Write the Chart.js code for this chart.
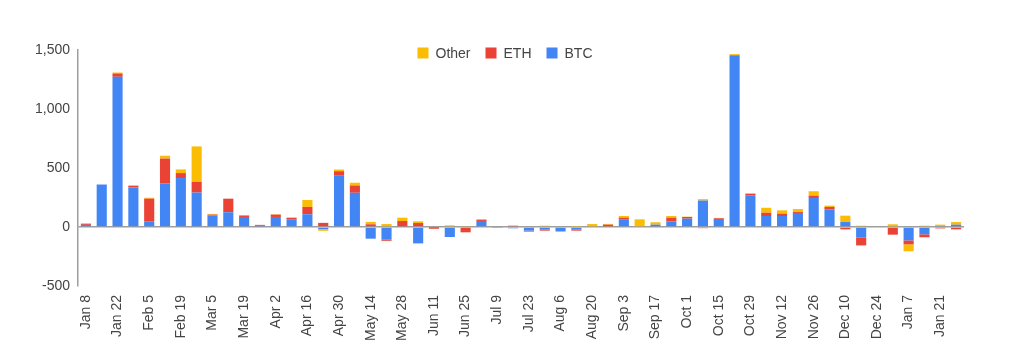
<!DOCTYPE html>
<html>
<head>
<meta charset="utf-8">
<script src="https://cdn.jsdelivr.net/npm/chart.js@4.4.1/dist/chart.umd.min.js"></script>
<style>
  html, body { margin: 0; padding: 0; background: #fff; }
  #wrap { width: 1024px; height: 364px; }
</style>
</head>
<body>
<div id="wrap"><canvas id="flows"></canvas></div>
<script>
// weekly net flows
const weeks = [
  'Jan 8', 'Jan 15', 'Jan 22', 'Jan 29', 'Feb 5', 'Feb 12', 'Feb 19', 'Feb 26',
  'Mar 5', 'Mar 12', 'Mar 19', 'Mar 26', 'Apr 2', 'Apr 9', 'Apr 16', 'Apr 23',
  'Apr 30', 'May 7', 'May 14', 'May 21', 'May 28', 'Jun 4', 'Jun 11', 'Jun 18',
  'Jun 25', 'Jul 2', 'Jul 9', 'Jul 16', 'Jul 23', 'Jul 30', 'Aug 6', 'Aug 13',
  'Aug 20', 'Aug 27', 'Sep 3', 'Sep 10', 'Sep 17', 'Sep 24', 'Oct 1', 'Oct 8',
  'Oct 15', 'Oct 22', 'Oct 29', 'Nov 5', 'Nov 12', 'Nov 19', 'Nov 26', 'Dec 3',
  'Dec 10', 'Dec 17', 'Dec 24', 'Dec 31', 'Jan 7', 'Jan 14', 'Jan 21', 'Jan 28'
];

const btc = [
  18, 360, 1273, 334, 45, 370, 415, 292, 97, 125, 85, 10, 85, 62, 108, -18,
  439, 290, -99, -105, 0, -139, -3, -85, 0, 51, 0, -11, -31, -23, -34, -23,
  0, 0, 62, 0, 20, 48, 71, 224, 68, 1455, 269, 93, 93, 119, 246, 147,
  42, -91, 0, 0, -113, -62, 8, 20
];
const eth = [
  10, 0, 28, 14, 195, 210, 42, 91, 8, 115, 11, 8, 20, 17, 62, 35,
  34, 62, 23, -12, 51, 34, -12, 0, -45, 8, -4, 11, -8, -8, -4, -8,
  0, 20, 17, 0, 0, 31, 14, -10, 6, 0, 14, 28, 20, 8, 20, 23,
  -20, -65, 0, -65, -34, -25, -12, -20
];
const other = [
  2, 0, 8, 6, 8, 24, 31, 300, 6, 0, 6, 0, 3, 0, 59, -14,
  14, 23, 20, 25, 28, 14, 6, 14, 5, 8, 0, 0, 6, 11, 0, 3,
  25, 6, 14, 65, 20, 14, 3, 12, 3, 10, 0, 42, 28, 25, 37, 11,
  54, 11, 0, 23, -59, 11, 12, 22
];

const yTicks = [-500, 0, 500, 1000, 1500];

const textColor = '#444';
const fontFamily = '"Liberation Sans", Arial, sans-serif';
const font = { family: fontFamily, size: 14 };

// Google-style legend drawn inside the plot area, top centre
const insideLegend = {
  id: 'insideLegend',
  afterDraw(chart) {
    const c = chart.ctx;
    const sets = chart.data.datasets.slice().reverse();
    const box = 11, gap = 7, spacing = 15;
    c.save();
    c.font = '14px ' + fontFamily;
    const widths = sets.map(ds => box + gap + c.measureText(ds.label).width);
    const total = widths.reduce((a, b) => a + b, 0) + spacing * (sets.length - 1);
    let x = 505 - total / 2;
    const y = 53;
    c.textBaseline = 'middle';
    sets.forEach((ds, i) => {
      c.fillStyle = ds.backgroundColor;
      c.fillRect(x, y - box / 2, box, box);
      c.fillStyle = textColor;
      c.fillText(ds.label, x + box + gap, y + 1);
      x += widths[i] + spacing;
    });
    c.restore();
  }
};

const ctx = document.getElementById('flows').getContext('2d');
new Chart(ctx, {
  type: 'bar',
  data: {
    labels: weeks,
    datasets: [
      { label: 'BTC', data: btc, backgroundColor: '#4285F4' },
      { label: 'ETH', data: eth, backgroundColor: '#EA4335' },
      { label: 'Other', data: other, backgroundColor: '#FBBC04' }
    ]
  },
  options: {
    responsive: true,
    maintainAspectRatio: false,
    animation: false,
    layout: { padding: { top: 50, left: 8, right: 60, bottom: 0 } },
    datasets: {
      bar: { categoryPercentage: 1, barPercentage: 0.64, borderWidth: 0 }
    },
    scales: {
      x: {
        stacked: true,
        afterFit: (s) => { s.height = 78; },
        grid: { display: false },
        border: { display: false },
        ticks: {
          autoSkip: false,
          minRotation: 90,
          maxRotation: 90,
          padding: 1,
          color: textColor,
          font: font,
          callback: function (v, i) {
            return i % 2 === 0 ? this.getLabelForValue(v) : '';
          }
        }
      },
      y: {
        stacked: true,
        min: yTicks[0],
        max: yTicks[yTicks.length - 1],
        afterFit: (s) => { s.width = 70; },
        afterBuildTicks: (s) => { s.ticks = yTicks.map(v => ({ value: v })); },
        border: { display: true, color: '#9e9e9e', width: 1.5 },
        grid: {
          drawTicks: false,
          lineWidth: 1.5,
          color: (c) => (c.tick && c.tick.value === 0 ? '#9e9e9e' : 'rgba(0,0,0,0)')
        },
        ticks: {
          padding: 8,
          color: textColor,
          font: font,
          callback: (v) => v.toLocaleString('en-US')
        }
      }
    },
    plugins: {
      legend: { display: false },
      tooltip: { enabled: true }
    }
  },
  plugins: [insideLegend]
});
</script>
</body>
</html>
